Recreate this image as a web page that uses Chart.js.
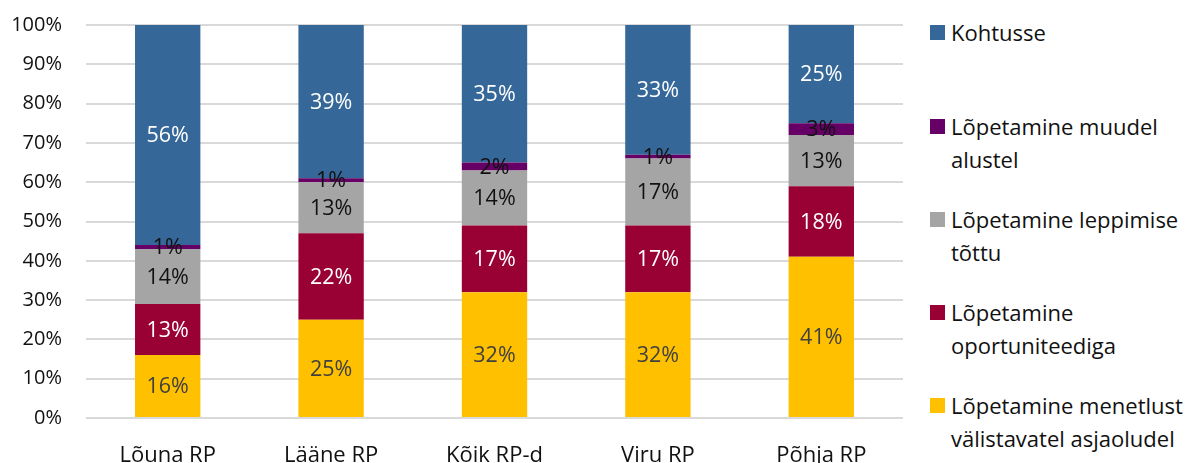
<!DOCTYPE html>
<html>
<head>
<meta charset="utf-8">
<script src="https://cdn.jsdelivr.net/npm/chart.js@4"></script>
<style>
  html, body { margin: 0; padding: 0; background: #fff; }
  body { width: 1200px; height: 463px; position: relative; overflow: hidden;
         font-family: 'Open Sans', 'Noto Sans', sans-serif; }
  #wrap { position: absolute; left: 0; top: -11px; width: 906px; height: 474px; }
  #legend { position: absolute; left: 930px; top: 0; width: 270px; }
  .lg-item { position: absolute; left: 0; display: flex; align-items: flex-start; }
  .lg-box { width: 15px; height: 15px; margin-top: 9px; margin-right: 6px; flex: none; }
  .lg-text { font-size: 22px; line-height: 33px; color: #111; white-space: nowrap; }
</style>
</head>
<body>
<div id="wrap"><canvas id="chart"></canvas></div>
<div id="legend"></div>
<script>
'use strict';

/* ── Data ── */
const categories = ['Lõuna RP', 'Lääne RP', 'Kõik RP-d', 'Viru RP', 'Põhja RP'];

const seriesNames = [
  'Lõpetamine menetlust välistavatel asjaoludel',
  'Lõpetamine oportuniteediga',
  'Lõpetamine leppimise tõttu',
  'Lõpetamine muudel alustel',
  'Kohtusse'
];

const menetlust    = [16, 25, 32, 32, 41];
const oportuniteet = [13, 22, 17, 17, 18];
const leppimine    = [14, 13, 14, 17, 13];
const muudel       = [1, 1, 2, 1, 3];
const kohtusse     = [56, 39, 35, 33, 25];

const yTicks = [0, 10, 20, 30, 40, 50, 60, 70, 80, 90, 100];

/* legend text split the way the reference wraps it */
const legendLines = [
  ['Lõpetamine menetlust', 'välistavatel asjaoludel'],
  ['Lõpetamine', 'oportuniteediga'],
  ['Lõpetamine leppimise', 'tõttu'],
  ['Lõpetamine muudel', 'alustel'],
  ['Kohtusse']
];

/* ── Styles ── */
const COLORS       = ['#FFC000', '#990033', '#A5A5A5', '#660066', '#356899'];
const LABEL_COLORS = ['#404040', '#ffffff', '#111111', '#111111', '#ffffff'];
const FONT = "'Open Sans', 'Noto Sans', sans-serif";

const seriesValues = [menetlust, oportuniteet, leppimine, muudel, kohtusse];

/* data label plugin: value in middle of each segment */
const segmentLabels = {
  id: 'segmentLabels',
  afterDatasetsDraw(chart) {
    const ctx = chart.ctx;
    ctx.save();
    ctx.font = '21.5px ' + FONT;
    ctx.textAlign = 'center';
    ctx.textBaseline = 'middle';
    chart.data.datasets.forEach((ds, di) => {
      const meta = chart.getDatasetMeta(di);
      meta.data.forEach((bar, i) => {
        const y = (bar.y + bar.base) / 2;
        ctx.fillStyle = LABEL_COLORS[di];
        ctx.fillText(ds.data[i] + '%', bar.x, y + 1);
      });
    });
    ctx.restore();
  }
};

const chart = new Chart(document.getElementById('chart'), {
  type: 'bar',
  data: {
    labels: categories,
    datasets: seriesValues.map((vals, i) => ({
      label: seriesNames[i],
      data: vals,
      backgroundColor: COLORS[i],
      borderWidth: 0,
      categoryPercentage: 1,
      barPercentage: 0.4
    }))
  },
  options: {
    responsive: true,
    maintainAspectRatio: false,
    animation: false,
    layout: { padding: { top: 14, right: 3, bottom: 0, left: 0 } },
    plugins: {
      legend: { display: false },
      tooltip: { enabled: false }
    },
    scales: {
      x: {
        stacked: true,
        grid: { display: false },
        border: { display: false },
        ticks: { color: '#111', font: { family: FONT, size: 22 }, padding: 17 },
        afterFit: axis => { axis.height = 45; }
      },
      y: {
        stacked: true,
        min: 0,
        max: 100,
        afterBuildTicks: axis => { axis.ticks = yTicks.map(v => ({ value: v })); },
        grid: { color: '#D9D9D9', lineWidth: 2, drawTicks: false },
        border: { display: false },
        ticks: {
          color: '#111',
          font: { family: FONT, size: 20 },
          padding: 24,
          callback: v => v + '%'
        },
        afterFit: axis => { axis.width = 86; }
      }
    }
  },
  plugins: [segmentLabels]
});

/* ── HTML legend (top to bottom = last dataset first) ── */
const legendEl = document.getElementById('legend');
const legendTops = [16, 110, 203, 296, 389];
for (let k = 0; k < seriesNames.length; k++) {
  const di = seriesNames.length - 1 - k;
  const item = document.createElement('div');
  item.className = 'lg-item';
  item.style.top = legendTops[k] + 'px';
  item.innerHTML =
    '<span class="lg-box" style="background:' + COLORS[di] + '"></span>' +
    '<span class="lg-text">' + legendLines[di].join('<br>') + '</span>';
  legendEl.appendChild(item);
}
</script>
</body>
</html>
